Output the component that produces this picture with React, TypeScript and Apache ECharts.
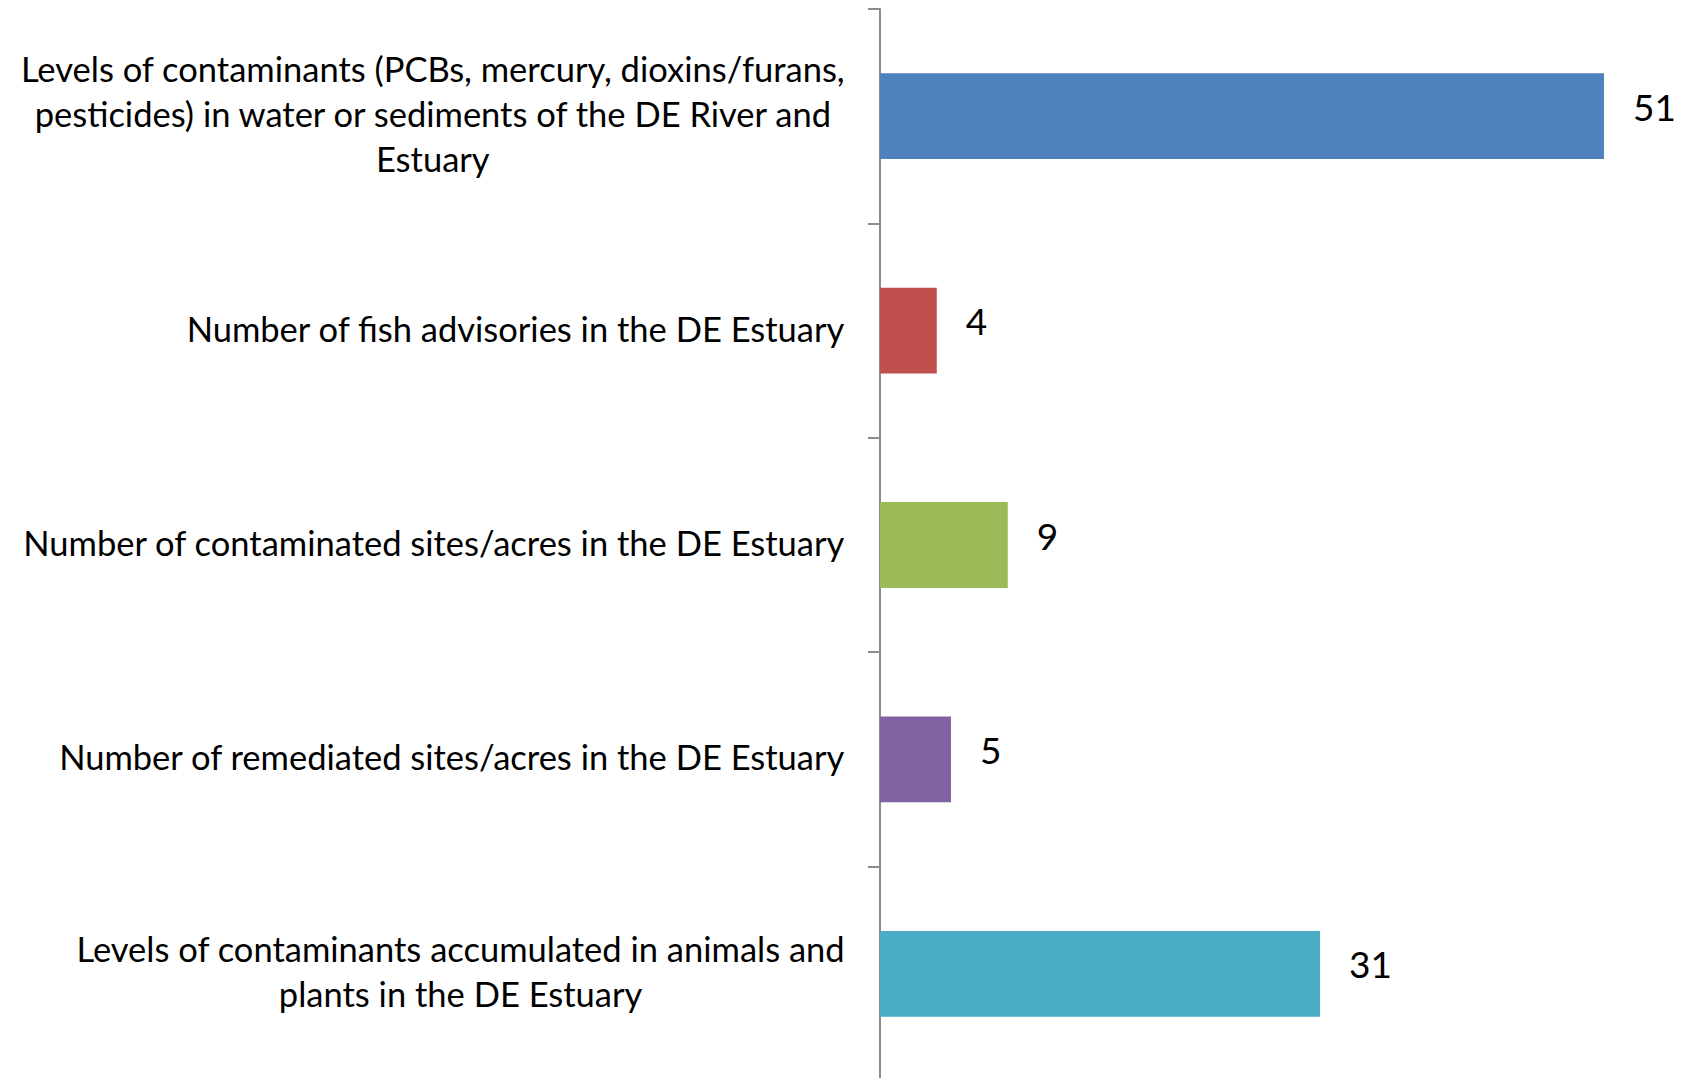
import React, { useEffect, useRef } from "react";
import * as echarts from "echarts";

const categories: string[] = [
  "Levels of contaminants (PCBs, mercury, dioxins/furans,\npesticides) in water or sediments of the DE River and\nEstuary",
  "Number of fish advisories in the DE Estuary",
  "Number of contaminated sites/acres in the DE Estuary",
  "Number of remediated sites/acres in the DE Estuary",
  "Levels of contaminants accumulated in animals and\nplants in the DE Estuary",
];
const values: number[] = [51, 4, 9, 5, 31];
const barColors: string[] = ["#4F81BD", "#C0504D", "#9BBB59", "#8064A2", "#4BACC6"];

const FONT = "Lato, 'Liberation Sans', sans-serif";

export default function App() {
  const ref = useRef<HTMLDivElement>(null);
  useEffect(() => {
    if (!ref.current) return;
    const chart = echarts.init(ref.current, undefined, { renderer: "svg" });
    chart.setOption({
      animation: false,
      backgroundColor: "#ffffff",
      grid: {
        left: 880,
        top: 9,
        width: 795,
        height: 1072,
        containLabel: false,
        outerBoundsMode: "none",
      },
      xAxis: {
        type: "value",
        min: 0,
        max: 56,
        show: false,
      },
      yAxis: {
        type: "category",
        inverse: true,
        data: categories,
        axisLine: { show: true, lineStyle: { color: "#8C8C8C", width: 2 } },
        axisTick: { show: true, inside: false, length: 12, lineStyle: { color: "#8C8C8C", width: 2 } },
        splitLine: { show: false },
        axisLabel: {
          margin: 35,
          color: "#000000",
          fontFamily: FONT,
          fontSize: 34.5,
          lineHeight: 45,
          padding: [0, 0, 5, 0],
          formatter: (v: string) =>
            v
              .split("\n")
              .map((l) => "{c|" + l + "}")
              .join("\n"),
          rich: {
            c: {
              align: "center",
              fontFamily: FONT,
              fontSize: 34.5,
              lineHeight: 45,
              color: "#000000",
            },
          },
        },
      },
      series: [
        {
          type: "bar",
          barWidth: "40%",
          data: values.map((v, i) => ({ value: v, itemStyle: { color: barColors[i] } })),
          label: {
            show: true,
            position: "right",
            distance: 29,
            offset: [0, -10],
            color: "#000000",
            fontFamily: FONT,
            fontSize: 37,
          },
        },
      ],
    });
    return () => chart.dispose();
  }, []);
  return (
    <div
      ref={ref}
      style={{ position: "fixed", left: 0, top: 0, width: 1686, height: 1078, background: "#fff" }}
    />
  );
}
